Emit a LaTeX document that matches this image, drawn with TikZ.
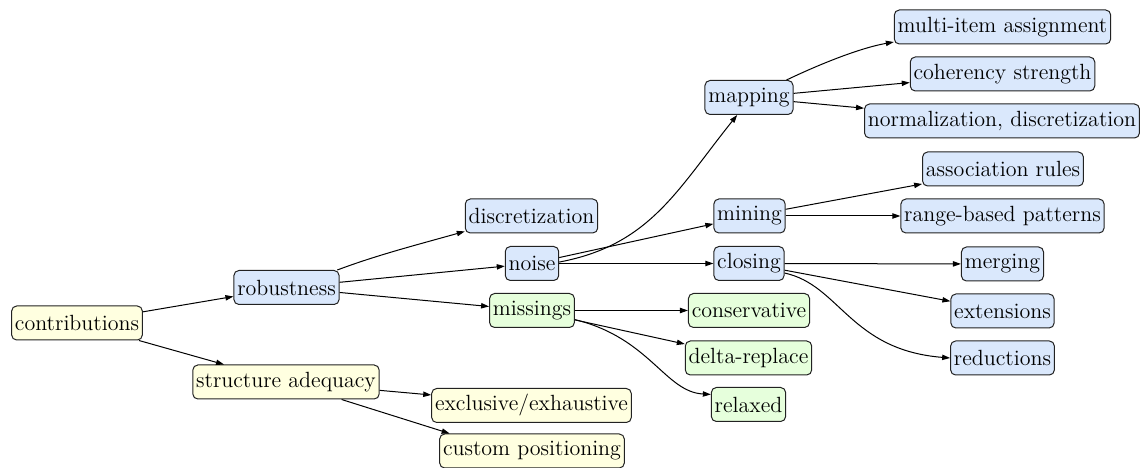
\documentclass[tikz,border=0pt]{standalone}
\usepackage{fontspec}
\usetikzlibrary{arrows.meta}
\definecolor{boxyellow}{HTML}{FFFFE0}
\definecolor{boxblue}{HTML}{DAE8FC}
\definecolor{boxgreen}{HTML}{E6FFDC}
\definecolor{edgegray}{HTML}{222222}
\tikzset{
  item/.style={draw=edgegray, line width=0.6pt, rounded corners=3pt,
    inner xsep=2pt, inner ysep=0pt, minimum height=20.4pt,
    font=\fontsize{13.2}{15}\selectfont, text=black},
  yel/.style={item, fill=boxyellow},
  blu/.style={item, fill=boxblue},
  grn/.style={item, fill=boxgreen},
  link/.style={draw=black, line width=0.6pt,
    -{Triangle[length=4.8pt,width=3.2pt]}}
}
\begin{document}
\begin{tikzpicture}[x=0.6pt, y=-0.6pt]
\useasboundingbox (0,0) rectangle (1145,468);

% root and first level
\node[yel] (contrib) at (77,323) {contributions};
\node[blu] (rob) at (286.5,287.5) {robustness};
\node[yel] (sa) at (286,382) {structure adequacy};

% structure adequacy branch
\node[yel] (excl) at (531.5,405.5) {exclusive/exhaustive};
\node[yel] (cp) at (532,451) {custom positioning};

% robustness branch
\node[blu] (disc) at (531.5,216) {discretization};
\node[blu] (noise) at (532,263.5) {noise};
\node[grn] (miss) at (532,310.5) {missings};

% noise branch
\node[blu] (map) at (749,97.5) {mapping};
\node[blu] (mine) at (749.5,216) {mining};
\node[blu] (close) at (749,263.5) {closing};

% missings branch
\node[grn] (cons) at (749,310.5) {conservative};
\node[grn] (delta) at (748.5,358) {delta-replace};
\node[grn] (relax) at (748.5,404.5) {relaxed};

% leaves of mapping, mining and closing
\node[blu] (multi) at (1002.5,27) {multi-item assignment};
\node[blu] (coh) at (1002.5,74) {coherency strength};
\node[blu] (norm) at (1002,121) {normalization, discretization};
\node[blu] (assoc) at (1003,169) {association rules};
\node[blu] (range) at (1002.5,216) {range-based patterns};
\node[blu] (merge) at (1002.5,264) {merging};
\node[blu] (ext) at (1002.5,311) {extensions};
\node[blu] (red) at (1002.5,358) {reductions};

% connectors
\draw[link] (contrib) -- (rob);
\draw[link] (contrib) -- (sa);
\draw[link] (sa) -- (excl.174);
\draw[link] (sa) -- (cp.168);

\draw[link] (rob.19) .. controls (377,255) and (420,244) .. (disc.193);
\draw[link] (rob) -- (noise);
\draw[link] (rob) -- (miss);

\draw[link] (noise.3) .. controls (650,245) and (677,190) .. (map.236);
\draw[link] (noise) -- (mine);
\draw[link] (noise) -- (close);

\draw[link] (miss) -- (cons);
\draw[link] (miss) -- (delta);
\draw[link] (miss.-12) .. controls (650,338) and (665,392) .. (relax.165);

\draw[link] (map.25) .. controls (820,64) and (860,48) .. (multi.west |- 0,42);
\draw[link] (map) -- (coh);
\draw[link] (map) -- (norm);

\draw[link] (mine) -- (assoc);
\draw[link] (mine) -- (range);

\draw[link] (close) -- (merge);
\draw[link] (close) -- (ext);
\draw[link] (close.-15) .. controls (840,285) and (850,350) .. (red.west);
\end{tikzpicture}
\end{document}
